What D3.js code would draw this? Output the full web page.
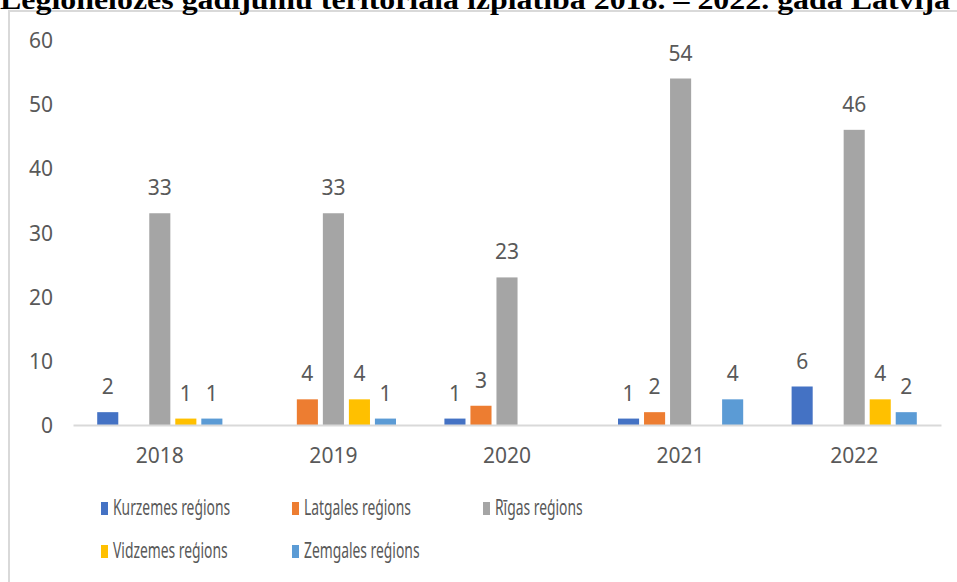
<!DOCTYPE html>
<html>
<head>
<meta charset="utf-8">
<script src="https://cdnjs.cloudflare.com/ajax/libs/d3/7.8.5/d3.min.js"></script>
<style>
  body { margin: 0; background: #fff; }
  svg { display: block; }
  .lbl { font-family: 'Noto Sans', sans-serif; fill: #595959; }
</style>
</head>
<body>
<div id="chart"></div>
<script>
const titleText = 'Legionelozes gadījumu teritoriāla izplatība 2018. – 2022. gadā Latvijā';
const years = ['2018', '2019', '2020', '2021', '2022'];
const seriesNames = ['Kurzemes reģions', 'Latgales reģions', 'Rīgas reģions', 'Vidzemes reģions', 'Zemgales reģions'];
const kurzemes = [2, 0, 1, 1, 6];
const latgales = [0, 4, 3, 2, 0];
const rigas = [33, 33, 23, 54, 46];
const vidzemes = [1, 4, 0, 0, 4];
const zemgales = [1, 1, 0, 4, 2];
const yTickValues = [0, 10, 20, 30, 40, 50, 60];
const colors = ['#4472C4', '#ED7D31', '#A5A5A5', '#FFC000', '#5B9BD5'];

const seriesValues = [kurzemes, latgales, rigas, vidzemes, zemgales];

const width = 957;
const height = 582;

const svg = d3.select('#chart').append('svg')
  .attr('width', width)
  .attr('height', height);

// chart frame (runs off the right / bottom edge)
svg.append('rect')
  .attr('x', 9)
  .attr('y', 11)
  .attr('width', 1000)
  .attr('height', 640)
  .attr('fill', 'none')
  .attr('stroke', '#d9d9d9')
  .attr('stroke-width', 2);

// title, cut off at the top like in the source
svg.append('text')
  .attr('x', 0)
  .attr('y', 9)
  .attr('textLength', 950)
  .attr('lengthAdjust', 'spacingAndGlyphs')
  .style('font-family', "'Liberation Serif', 'Times New Roman', serif")
  .style('font-weight', 'bold')
  .style('font-size', '27px')
  .style('fill', '#000')
  .text(titleText);

const x0 = d3.scaleBand()
  .domain(years)
  .range([73, 941]);

const x1 = d3.scaleBand()
  .domain(seriesNames)
  .range([0, x0.bandwidth()])
  .paddingInner(0.19)
  .paddingOuter(0.93);

const y = d3.scaleLinear()
  .domain([0, 60])
  .range([425, 40]);

// y axis labels
const yAxis = d3.axisLeft(y)
  .tickValues(yTickValues)
  .tickSize(0)
  .tickPadding(0);
const yAxisG = svg.append('g')
  .attr('transform', 'translate(53,0)')
  .call(yAxis);
yAxisG.select('.domain').remove();
yAxisG.selectAll('text')
  .attr('class', 'lbl')
  .attr('dy', '0.36em')
  .style('font-size', '21px')
  .style('font-family', "'Noto Sans', sans-serif")
  .attr('fill', '#595959');

// bars
const groups = svg.selectAll('g.year')
  .data(years)
  .enter().append('g')
  .attr('class', 'year')
  .attr('transform', d => `translate(${x0(d)},0)`);

groups.selectAll('rect')
  .data((d, i) => seriesNames.map((s, j) => ({ s: s, v: seriesValues[j][i], c: colors[j] })))
  .enter().append('rect')
  .attr('x', d => x1(d.s))
  .attr('y', d => y(d.v))
  .attr('width', x1.bandwidth())
  .attr('height', d => y(0) - y(d.v))
  .attr('fill', d => d.c);

groups.selectAll('text')
  .data((d, i) => seriesNames.map((s, j) => ({ s: s, v: seriesValues[j][i] })).filter(d => d.v > 0))
  .enter().append('text')
  .attr('class', 'lbl')
  .attr('x', d => x1(d.s) + x1.bandwidth() / 2)
  .attr('y', d => y(d.v) - 18)
  .attr('text-anchor', 'middle')
  .style('font-size', '21px')
  .text(d => d.v);

// x axis
const xAxis = d3.axisBottom(x0)
  .tickSize(0)
  .tickPadding(0);
const xAxisG = svg.append('g')
  .attr('transform', 'translate(0,425)')
  .call(xAxis);
xAxisG.select('.domain')
  .attr('stroke', '#d9d9d9')
  .attr('stroke-width', 2);
xAxisG.selectAll('text')
  .attr('class', 'lbl')
  .attr('y', 38)
  .attr('dy', 0)
  .style('font-size', '21px')
  .style('font-family', "'Noto Sans', sans-serif")
  .attr('fill', '#595959');

// legend
const legendCols = [101, 292, 483];
const legendRows = [515, 558];
const legend = svg.selectAll('g.legend')
  .data(seriesNames)
  .enter().append('g')
  .attr('class', 'legend')
  .attr('transform', (d, i) => `translate(${legendCols[i % 3]},${legendRows[Math.floor(i / 3)]})`);

legend.append('rect')
  .attr('x', 0)
  .attr('y', -13)
  .attr('width', 7)
  .attr('height', 13)
  .attr('fill', (d, i) => colors[i]);

legend.append('text')
  .attr('class', 'lbl')
  .attr('transform', 'translate(12,0) scale(0.66,1)')
  .style('font-size', '21px')
  .text(d => d);
</script>
</body>
</html>
